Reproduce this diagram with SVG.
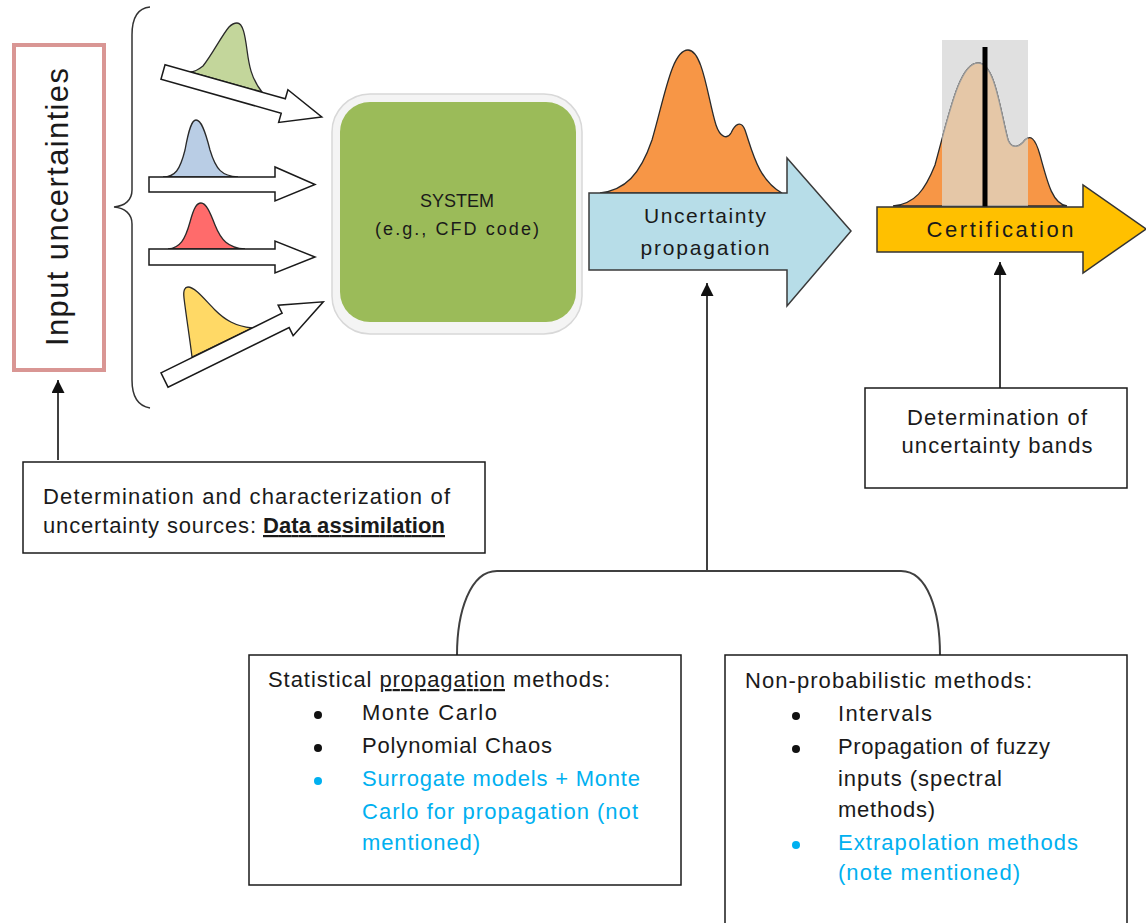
<svg xmlns="http://www.w3.org/2000/svg" width="1146" height="923" viewBox="0 0 1146 923">
<style>
.t{font-family:"Liberation Sans",Arial,sans-serif;fill:#1a1a1a;font-size:22px}
.bl{fill:#00b0f0}
.box{fill:#fff;stroke:#1a1a1a;stroke-width:1.5}
.ba{fill:#fff;stroke:#1a1a1a;stroke-width:1.5;stroke-linejoin:miter}
.dist{stroke:#2a2a2a;stroke-width:1.3}
.conn{stroke:#404040;stroke-width:2;fill:none}
.u{text-decoration:underline}
</style>
<defs>
<marker id="ah" markerUnits="userSpaceOnUse" markerWidth="14" markerHeight="14" refX="13" refY="6.5" orient="auto">
<path d="M0,0 L13,6.5 L0,13 z" fill="#111"/>
</marker>
<clipPath id="band"><rect x="942" y="40" width="86" height="166"/></clipPath>
</defs>
<rect width="1146" height="923" fill="#fff"/>

<g id="connectors">
<line class="conn" x1="58" y1="460" x2="58" y2="380" marker-end="url(#ah)"/>
<line class="conn" x1="707" y1="571" x2="707" y2="283" marker-end="url(#ah)"/>
<line class="conn" x1="1000" y1="388" x2="1000" y2="262" marker-end="url(#ah)" stroke="#222"/>
<path class="conn" stroke="#333" d="M457,655 C457,612 470,571 497,571 L901,571 C928,571 940,612 940,655"/>
<path fill="none" stroke="#333" stroke-width="1.5" d="M150,7 C138,8 132,18 132,35 L132,190 C132,200 125,206 114,207 C125,208 132,214 132,224 L132,380 C132,397 138,406 150,408"/>
</g>

<g id="input-uncertainties">
<rect x="14" y="45" width="90" height="325" fill="#fff" stroke="#d99694" stroke-width="4"/>
<text class="t" style="font-size:31px" transform="translate(68,207) rotate(-90)" text-anchor="middle" textLength="278" lengthAdjust="spacing">Input uncertainties</text>
</g>

<g id="input-arrows">
<path class="dist" fill="#c3d69b" d="M190,72 C195,72 198,70 203,66 C212,55 222,35 229,27 C232,24 234,23 237,23 C243,23 245,35 247,50 C249,65 251,78 262,92 Z"/>
<polygon class="ba" transform="translate(163,72) rotate(15.8)" points="0,-7.5 125,-7.5 125,-17 165,0 125,17 125,7.5 0,7.5"/>
<path class="dist" fill="#b9cde5" d="M163,177 C175,177 180,170 185,150 C189,128 192,120 196,120 C201,120 205,130 210,150 C216,170 222,176 238,177 Z"/>
<polygon class="ba" points="149,177 275,177 275,167 315,184.5 275,201 275,192 149,192"/>
<path class="dist" fill="#ff6b6b" d="M168,249 C180,248 185,240 190,222 C194,207 197,203 201,203 C206,203 210,212 215,225 C221,240 228,248 245,249 Z"/>
<polygon class="ba" points="149,249 275,249 275,241 315,257 275,273 275,265 149,265"/>
<path class="dist" fill="#ffd966" d="M192,357 C190,340 186,315 184,298 C183,290 185,287 188,287 C195,287 205,300 215,310 C225,320 235,326 252,328 Z"/>
<polygon class="ba" transform="translate(164.5,380) rotate(-26.2)" points="0,-8 135,-8 135,-17 177,0 135,17 135,8 0,8"/>
</g>

<g id="system">
<rect x="332" y="94" width="250" height="240" rx="38" fill="#f4f4f4" stroke="#d8d8d8" stroke-width="1.5"/>
<rect x="340" y="102" width="236" height="220" rx="30" fill="#9bbb59"/>
<text class="t" style="font-size:18px" x="457" y="207" text-anchor="middle">SYSTEM</text>
<text class="t" style="font-size:18px" x="457" y="235" text-anchor="middle" textLength="164" lengthAdjust="spacing">(e.g., CFD code)</text>
</g>

<g id="uncertainty-propagation">
<path class="dist" fill="#f79646" d="M600,193 C625,190 640,175 652,140 C665,95 672,50 688,50 C703,50 708,100 716,125 C720,137 727,140 731,133 C735,124 741,120 745,130 C752,150 758,180 782,193 Z"/>
<polygon fill="#b7dde8" stroke="#3a3a3a" stroke-width="1.5" points="589,193 787,193 787,158 851,231 787,306 787,270 589,270"/>
<text class="t" style="font-size:21px" x="705" y="223" text-anchor="middle" textLength="122" lengthAdjust="spacing">Uncertainty</text>
<text class="t" style="font-size:21px" x="705" y="255" text-anchor="middle" textLength="129" lengthAdjust="spacing">propagation</text>
</g>

<g id="certification">
<rect x="942" y="40" width="86" height="166" fill="#e0e0e0"/>
<path class="dist" fill="#f79646" d="M893,206 C915,204 925,190 935,165 C950,110 960,63 978,63 C995,63 1000,110 1008,140 C1012,150 1020,147 1025,140 C1030,135 1035,137 1040,155 C1048,185 1053,204 1067,206 Z"/>
<path clip-path="url(#band)" fill="#e5c7a7" stroke="#9a9a9a" stroke-width="1.3" d="M893,206 C915,204 925,190 935,165 C950,110 960,63 978,63 C995,63 1000,110 1008,140 C1012,150 1020,147 1025,140 C1030,135 1035,137 1040,155 C1048,185 1053,204 1067,206 Z"/>
<line x1="985" y1="47" x2="985" y2="207" stroke="#000" stroke-width="5"/>
<polygon fill="#ffc000" stroke="#333" stroke-width="1.5" points="877,207 1083,207 1083,185 1146,229 1083,273 1083,252 877,252"/>
<text class="t" x="1000" y="237" text-anchor="middle" textLength="147" lengthAdjust="spacing">Certification</text>
</g>

<g id="data-assimilation">
<rect class="box" x="23" y="462" width="462" height="91"/>
<text class="t" x="43" y="504" textLength="407" lengthAdjust="spacing">Determination and characterization of</text>
<text class="t" x="43" y="533" textLength="213" lengthAdjust="spacing">uncertainty sources:</text>
<text class="t u" x="263" y="533" font-weight="bold" textLength="182" lengthAdjust="spacing">Data assimilation</text>
</g>

<g id="uncertainty-bands">
<rect class="box" x="865" y="388" width="262" height="100"/>
<text class="t" x="997" y="425" text-anchor="middle" textLength="180" lengthAdjust="spacing">Determination of</text>
<text class="t" x="997" y="453" text-anchor="middle" textLength="191" lengthAdjust="spacing">uncertainty bands</text>
</g>

<g id="statistical-methods">
<rect class="box" x="249" y="655" width="432" height="230"/>
<text class="t" x="268" y="687" textLength="342" lengthAdjust="spacing">Statistical <tspan class="u">propagation</tspan> methods:</text>
<circle cx="318" cy="715" r="4" fill="#111"/>
<circle cx="318" cy="748" r="4" fill="#111"/>
<circle cx="318" cy="781" r="4" fill="#00b0f0"/>
<text class="t" x="362" y="720" textLength="135" lengthAdjust="spacing">Monte  Carlo</text>
<text class="t" x="362" y="753" textLength="190" lengthAdjust="spacing">Polynomial Chaos</text>
<text class="t bl" x="362" y="786" textLength="278" lengthAdjust="spacing">Surrogate models + Monte</text>
<text class="t bl" x="362" y="819" textLength="276" lengthAdjust="spacing">Carlo for propagation (not</text>
<text class="t bl" x="362" y="850" textLength="118" lengthAdjust="spacing">mentioned)</text>
</g>

<g id="non-probabilistic-methods">
<path fill="#fff" stroke="#1a1a1a" stroke-width="1.5" d="M725,930 L725,655 L1127,655 L1127,930"/>
<text class="t" x="745" y="688" textLength="287" lengthAdjust="spacing">Non-probabilistic methods:</text>
<circle cx="796" cy="716" r="4" fill="#111"/>
<circle cx="796" cy="749" r="4" fill="#111"/>
<circle cx="796" cy="845" r="4" fill="#00b0f0"/>
<text class="t" x="838" y="721" textLength="94" lengthAdjust="spacing">Intervals</text>
<text class="t" x="838" y="754" textLength="212" lengthAdjust="spacing">Propagation of fuzzy</text>
<text class="t" x="838" y="786" textLength="164" lengthAdjust="spacing">inputs (spectral</text>
<text class="t" x="838" y="817" textLength="97" lengthAdjust="spacing">methods)</text>
<text class="t bl" x="838" y="850" textLength="240" lengthAdjust="spacing">Extrapolation methods</text>
<text class="t bl" x="838" y="880" textLength="182" lengthAdjust="spacing">(note mentioned)</text>
</g>
</svg>
